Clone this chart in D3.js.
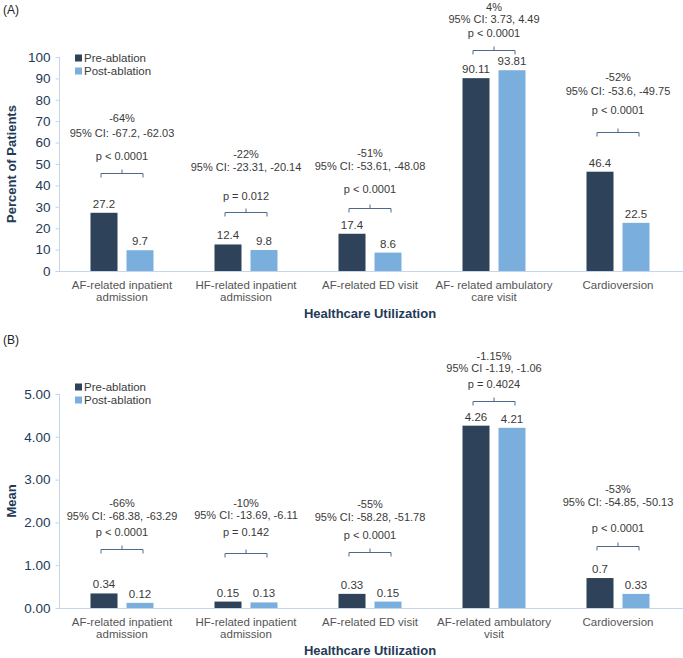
<!DOCTYPE html>
<html>
<head>
<meta charset="utf-8">
<script src="https://cdn.jsdelivr.net/npm/d3@7"></script>
<style>
  body { margin: 0; background: #fff; }
  svg { display: block; font-family: "Liberation Sans", Arial, sans-serif; }
</style>
</head>
<body>
<svg id="chart" width="683" height="658"></svg>
<script>
// ---------- DATA ----------
const seriesNames = ["Pre-ablation", "Post-ablation"];

const categoriesA = [
  ["AF-related inpatient", "admission"],
  ["HF-related inpatient", "admission"],
  ["AF-related ED visit"],
  ["AF- related ambulatory", "care visit"],
  ["Cardioversion"]
];
const preA  = [27.2, 12.4, 17.4, 90.11, 46.4];
const postA = [9.7, 9.8, 8.6, 93.81, 22.5];
const preALabels  = ["27.2", "12.4", "17.4", "90.11", "46.4"];
const postALabels = ["9.7", "9.8", "8.6", "93.81", "22.5"];
const pctA = ["-64%", "-22%", "-51%", "4%", "-52%"];
const ciA  = ["95% CI: -67.2, -62.03", "95% CI: -23.31, -20.14", "95% CI: -53.61, -48.08", "95% CI: 3.73, 4.49", "95% CI: -53.6, -49.75"];
const pA   = ["p < 0.0001", "p = 0.012", "p < 0.0001", "p < 0.0001", "p < 0.0001"];
const ticksA = [0, 10, 20, 30, 40, 50, 60, 70, 80, 90, 100];

const categoriesB = [
  ["AF-related inpatient", "admission"],
  ["HF-related inpatient", "admission"],
  ["AF-related ED visit"],
  ["AF-related ambulatory", "visit"],
  ["Cardioversion"]
];
const preB  = [0.34, 0.15, 0.33, 4.26, 0.7];
const postB = [0.12, 0.13, 0.15, 4.21, 0.33];
const preBLabels  = ["0.34", "0.15", "0.33", "4.26", "0.7"];
const postBLabels = ["0.12", "0.13", "0.15", "4.21", "0.33"];
const pctB = ["-66%", "-10%", "-55%", "-1.15%", "-53%"];
const ciB  = ["95% CI: -68.38, -63.29", "95% CI: -13.69, -6.11", "95% CI: -58.28, -51.78", "95% CI -1.19, -1.06", "95% CI: -54.85, -50.13"];
const pB   = ["p < 0.0001", "p = 0.142", "p < 0.0001", "p = 0.4024", "p < 0.0001"];
const ticksB = [0, 1, 2, 3, 4, 5];

// ---------- LAYOUT (annotation levels in axis units) ----------
const annotLevelsA = [ // [pct, ci, p, bracket]
  [71.5, 64.5, 53.7, 45.8],
  [54.7, 48.6, 35.0, 27.6],
  [55.1, 49.1, 38.3, 29.4],
  [123.4, 117.8, 111.2, 103.3],
  [90.7, 84.1, 75.2, 65.0]
];
const annotLevelsB = [
  [2.45, 2.15, 1.78, 1.38],
  [2.45, 2.17, 1.78, 1.29],
  [2.43, 2.13, 1.71, 1.31],
  [5.89, 5.61, 5.23, 4.84],
  [2.78, 2.48, 1.87, 1.45]
];

const colors = ["#2e4259", "#7aaedc"];
const axisColor = "#c3d6ec";
const tickTextColor = "#243a56";
const titleColor = "#243a56";
const annotColor = "#3a3a3a";
const catColor = "#555";
const bracketColor = "#4d6a8a";

const svg = d3.select("#chart");

function panel(cfg) {
  const g = svg.append("g");
  const cats = cfg.categories.map((c, i) => "c" + i);
  const x0 = d3.scaleBand().domain(cats).range([60, 680]).padding(0);
  const bw = x0.bandwidth();
  const x1 = d3.scaleBand().domain(seriesNames)
    .range([bw / 2 - 31.5, bw / 2 + 31.5]).paddingInner(0.25).paddingOuter(0);
  const y = d3.scaleLinear().domain(cfg.domain).range(cfg.range);

  // panel label
  g.append("text").attr("x", 3).attr("y", cfg.labelY)
    .attr("font-size", 12).attr("fill", "#222").text(cfg.label);

  // y axis
  const yAxis = d3.axisLeft(y).tickValues(cfg.ticks).tickSize(4).tickPadding(5)
    .tickFormat(cfg.tickFormat);
  const ya = g.append("g").attr("transform", "translate(59.5,0)").call(yAxis);
  ya.select(".domain").attr("stroke", axisColor).attr("d", `M-0,${y(cfg.domain[1])}V${y(0)}`);
  ya.selectAll(".tick line").attr("stroke", axisColor);
  ya.selectAll(".tick text").attr("font-size", 13.5).attr("fill", tickTextColor)
    .attr("font-family", "Liberation Sans, Arial, sans-serif");

  // x axis line
  g.append("line").attr("x1", 59).attr("x2", 683)
    .attr("y1", y(0) + 0.5).attr("y2", y(0) + 0.5)
    .attr("stroke", axisColor).attr("stroke-width", 1.2);

  // bars
  const rows = cats.map((c, i) => ({ c, i, vals: [
    { s: seriesNames[0], v: cfg.pre[i], lab: cfg.preLabels[i] },
    { s: seriesNames[1], v: cfg.post[i], lab: cfg.postLabels[i] }
  ]}));
  const grp = g.selectAll("g.cat").data(rows).join("g")
    .attr("transform", d => `translate(${x0(d.c)},0)`);
  grp.selectAll("rect").data(d => d.vals).join("rect")
    .attr("x", d => x1(d.s)).attr("width", x1.bandwidth())
    .attr("y", d => y(d.v)).attr("height", d => y(0) - y(d.v))
    .attr("fill", (d, j) => colors[j]);
  grp.selectAll("text.val").data(d => d.vals).join("text").attr("class", "val")
    .attr("x", d => x1(d.s) + x1.bandwidth() / 2)
    .attr("y", d => y(d.v) - 5)
    .attr("text-anchor", "middle").attr("font-size", 11.5).attr("fill", annotColor)
    .text(d => d.lab);

  // annotations
  rows.forEach(r => {
    const cx = x0(r.c) + bw / 2;
    const lv = cfg.levels[r.i];
    const lines = [cfg.pct[r.i], cfg.ci[r.i], cfg.p[r.i]];
    lines.forEach((t, k) => {
      g.append("text").attr("x", cx).attr("y", y(lv[k]))
        .attr("dy", "0.35em").attr("text-anchor", "middle")
        .attr("font-size", 11).attr("fill", annotColor).text(t);
    });
    const by = Math.round(y(lv[3])) + 0.5;
    const hw = 21;
    g.append("path")
      .attr("d", `M${cx - hw},${by + 4}V${by}H${cx + hw}V${by + 4}M${cx},${by}V${by - 4}`)
      .attr("fill", "none").attr("stroke", bracketColor).attr("stroke-width", 1);
  });

  // category labels
  cfg.categories.forEach((lines, i) => {
    const cx = x0(cats[i]) + bw / 2;
    lines.forEach((t, k) => {
      g.append("text").attr("x", cx).attr("y", y(0) + 14 + k * 12)
        .attr("dy", "0.35em").attr("text-anchor", "middle")
        .attr("font-size", 11.5).attr("fill", catColor).text(t);
    });
  });

  // axis titles
  g.append("text").attr("x", 370).attr("y", y(0) + 42).attr("dy", "0.35em")
    .attr("text-anchor", "middle").attr("font-size", 13).attr("font-weight", "bold")
    .attr("fill", titleColor).text("Healthcare Utilization");
  const ymid = (y(cfg.domain[0]) + y(cfg.domain[1])) / 2;
  g.append("text").attr("transform", `translate(11,${ymid}) rotate(-90)`)
    .attr("dy", "0.35em").attr("text-anchor", "middle").attr("font-size", 13)
    .attr("font-weight", "bold").attr("fill", titleColor).text(cfg.yTitle);

  // legend
  seriesNames.forEach((s, j) => {
    const ly = cfg.legendY + j * 13;
    g.append("rect").attr("x", 75).attr("y", ly - 3.5).attr("width", 7).attr("height", 7)
      .attr("fill", colors[j]);
    g.append("text").attr("x", 84).attr("y", ly).attr("dy", "0.35em")
      .attr("font-size", 11.5).attr("fill", annotColor).text(s);
  });
}

panel({
  label: "(A)", labelY: 14,
  categories: categoriesA, pre: preA, post: postA,
  preLabels: preALabels, postLabels: postALabels,
  pct: pctA, ci: ciA, p: pA, levels: annotLevelsA,
  domain: [0, 100], range: [271, 57], ticks: ticksA,
  tickFormat: d3.format("d"), yTitle: "Percent of Patients", legendY: 58
});
panel({
  label: "(B)", labelY: 344,
  categories: categoriesB, pre: preB, post: postB,
  preLabels: preBLabels, postLabels: postBLabels,
  pct: pctB, ci: ciB, p: pB, levels: annotLevelsB,
  domain: [0, 5], range: [608, 394], ticks: ticksB,
  tickFormat: d3.format(".2f"), yTitle: "Mean", legendY: 387
});
</script>
</body>
</html>
